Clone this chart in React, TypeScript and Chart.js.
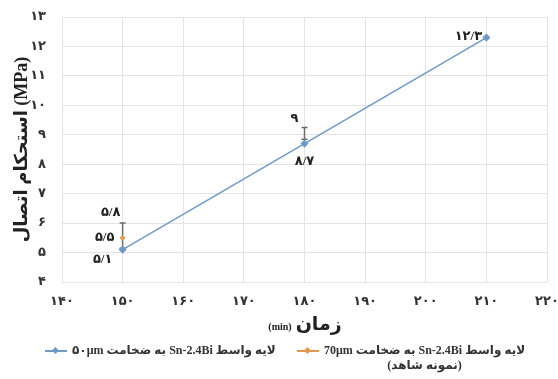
import React, { useEffect, useRef } from "react";
import { Chart, registerables } from "chart.js";
Chart.register(...registerables);

const times = [150, 180, 210];
const strength50 = [5.1, 8.7, 12.3];
const controlTimes = [150];
const strength70 = [5.5];
const maxTimes = [150, 180];
const maxStrength = [5.8, 9];
const errTimes = [150, 180];
const errLow = [5.15, 8.85];
const errHigh = [6.0, 9.25];
const legend50 = "لایه واسط Sn-2.4Bi به ضخامت ۵۰μm";
const legend70 = "لایه واسط Sn-2.4Bi به ضخامت 70μm";
const legend70b = "(نمونه شاهد)";
const yTitle = "استحکام اتصال (MPa)";
const xTitleFa = "زمان";
const xTitleUnit = "(min)";

const FONT = "'Liberation Serif', 'DejaVu Sans', serif";
const BLUE = "#7199C2";
const ORANGE = "#E39A4F";

const fa = (v: number) =>
  String(v)
    .replace(".", "/")
    .replace(/\d/g, (d) => "۰۱۲۳۴۵۶۷۸۹"[Number(d)]);

const labelPlugin = {
  id: "dataLabels",
  afterDatasetsDraw(chart: any) {
    const ctx = chart.ctx;
    ctx.save();
    ctx.font = `bold 13px ${FONT}`;
    ctx.fillStyle = "#222";
    ctx.textBaseline = "middle";
    chart.data.datasets.forEach((ds: any, di: number) => {
      const meta = chart.getDatasetMeta(di);
      const offs = ds.labelOffsets || [];
      meta.data.forEach((el: any, i: number) => {
        const o = offs[i] || [0, 0];
        ctx.textAlign = "center";
        ctx.fillText(fa(ds.data[i].y), el.x + o[0], el.y + o[1]);
      });
    });
    ctx.restore();
  },
};

const errPlugin = {
  id: "errBars",
  beforeDatasetsDraw(chart: any) {
    const ctx = chart.ctx;
    const xs = chart.scales.x;
    const ys = chart.scales.y;
    ctx.save();
    ctx.strokeStyle = "#6b6b6b";
    ctx.lineWidth = 1.5;
    errTimes.forEach((t, i) => {
      const x = xs.getPixelForValue(t);
      const y1 = ys.getPixelForValue(errLow[i]);
      const y2 = ys.getPixelForValue(errHigh[i]);
      ctx.beginPath();
      ctx.moveTo(x, y1);
      ctx.lineTo(x, y2);
      ctx.moveTo(x - 3, y1);
      ctx.lineTo(x + 3, y1);
      ctx.moveTo(x - 3, y2);
      ctx.lineTo(x + 3, y2);
      ctx.stroke();
    });
    ctx.restore();
  },
};

export default function App() {
  const ref = useRef<HTMLCanvasElement | null>(null);
  useEffect(() => {
    document.body.style.margin = "0";
    const chart = new Chart(ref.current as HTMLCanvasElement, {
      type: "scatter",
      data: {
        datasets: [
          {
            label: legend50,
            data: times.map((t, i) => ({ x: t, y: strength50[i] })),
            showLine: true,
            borderColor: BLUE,
            backgroundColor: BLUE,
            borderWidth: 1.5,
            pointStyle: "rectRot",
            pointRadius: 3,
            labelOffsets: [[-20, 10], [0, 18], [-18, -1]],
          } as any,
          {
            label: legend70,
            data: controlTimes.map((t, i) => ({ x: t, y: strength70[i] })),
            borderColor: ORANGE,
            backgroundColor: ORANGE,
            pointStyle: "rectRot",
            pointRadius: 2.5,
            labelOffsets: [[-18, 0]],
          } as any,
          {
            label: "max",
            data: maxTimes.map((t, i) => ({ x: t, y: maxStrength[i] })),
            pointRadius: 0,
            labelOffsets: [[-12, -16], [-10, -16]],
          } as any,
        ],
      },
      options: {
        animation: false,
        responsive: false,
        layout: { padding: { left: 8, right: 11, top: 17, bottom: 41 } },
        plugins: { legend: { display: false }, tooltip: { enabled: false } },
        scales: {
          x: {
            type: "linear",
            min: 140,
            max: 220,
            ticks: {
              stepSize: 10,
              padding: 12,
              color: "#333",
              font: { family: FONT, size: 13, weight: "bold" },
              callback: (v: any) => fa(Number(v)),
            },
            grid: { color: "#e4e4e4", drawTicks: false },
            border: { display: false },
            afterFit: (s: any) => {
              s.height = 56;
              s.paddingLeft = 0;
              s.paddingRight = 0;
            },
          },
          y: {
            min: 4,
            max: 13,
            ticks: {
              stepSize: 1,
              padding: 16,
              color: "#333",
              font: { family: FONT, size: 13, weight: "bold" },
              callback: (v: any) => fa(Number(v)),
            },
            grid: { color: "#e4e4e4", drawTicks: false },
            border: { display: false },
            title: {
              display: true,
              text: yTitle,
              color: "#222",
              font: { family: FONT, size: 18, weight: "bold" },
              padding: { top: 4, bottom: 4 },
            },
            afterFit: (s: any) => {
              s.width = 54;
              s.paddingTop = 0;
              s.paddingBottom = 0;
            },
          },
        },
      },
      plugins: [errPlugin, labelPlugin],
    } as any);
    return () => chart.destroy();
  }, []);

  const marker = (c: string) => (
    <span style={{ position: "relative", display: "inline-block", width: 22, height: 10, marginRight: 5 }}>
      <span style={{ position: "absolute", left: 0, right: 0, top: 4, height: 2, background: c }} />
      <span
        style={{
          position: "absolute",
          left: 8,
          top: 2,
          width: 5,
          height: 5,
          background: c,
          transform: "rotate(45deg)",
        }}
      />
    </span>
  );

  return (
    <div style={{ position: "relative", width: 558, height: 379, background: "#fff", fontFamily: FONT }}>
      <canvas ref={ref} width={558} height={379} style={{ display: "block" }} />
      <div
        dir="rtl"
        style={{
          position: "absolute",
          left: 205,
          width: 200,
          top: 312,
          textAlign: "center",
          fontWeight: "bold",
          color: "#222",
          whiteSpace: "nowrap",
        }}
      >
        <span style={{ fontSize: 19 }}>{xTitleFa}</span> <span style={{ fontSize: 10 }}>{xTitleUnit}</span>
      </div>
      <div
        style={{
          position: "absolute",
          left: 45,
          top: 343,
          display: "flex",
          alignItems: "center",
          fontSize: 12,
          fontWeight: "bold",
          color: "#333",
          whiteSpace: "nowrap",
        }}
      >
        {marker(BLUE)}
        <span dir="rtl">{legend50}</span>
      </div>
      <div
        style={{
          position: "absolute",
          left: 297,
          top: 343,
          fontSize: 12,
          fontWeight: "bold",
          color: "#333",
          whiteSpace: "nowrap",
        }}
      >
        <div style={{ display: "flex", alignItems: "center" }}>
          {marker(ORANGE)}
          <span dir="rtl">{legend70}</span>
        </div>
        <div dir="rtl" style={{ textAlign: "center", marginLeft: 27 }}>
          {legend70b}
        </div>
      </div>
    </div>
  );
}
